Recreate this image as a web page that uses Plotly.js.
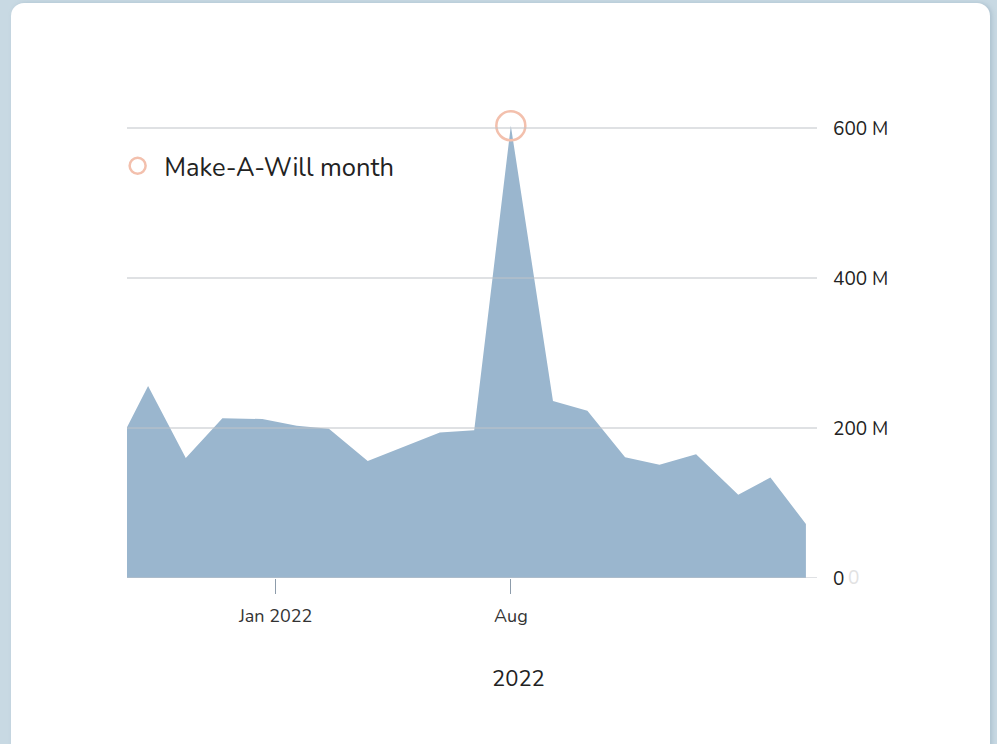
<!DOCTYPE html>
<html>
<head>
<meta charset="utf-8">
<script src="https://cdn.plot.ly/plotly-3.0.1.min.js"></script>
<style>
  html, body { margin:0; padding:0; width:997px; height:744px; overflow:hidden; background:#c8d9e3; }
  #card { position:absolute; left:11px; top:3px; width:979px; height:760px; background:#ffffff; border-radius:13px; box-shadow: 2px 0 4px rgba(120,150,170,0.35); }
  #chart { position:absolute; left:0; top:0; width:997px; height:744px; }
</style>
</head>
<body>
<div id="card"></div>
<div id="chart"></div>
<script>
// Data (values in millions)
const dates = ['2021-08-20','2021-09-08','2021-10-12','2021-11-14','2021-12-20','2022-01-20','2022-02-18','2022-03-25','2022-05-29','2022-06-29','2022-08-01','2022-09-08','2022-10-09','2022-11-12','2022-12-13','2023-01-15','2023-02-22','2023-03-23','2023-04-24'];
const values = [201,256,160,213,212,203,199,156,194,197,603,236,223,161,151,165,111,134,72];

const highlightName = 'Make-A-Will month';
const highlightDates = ['2022-08-01'];
const highlightValues = [603];

const xTickVals = ['2022-01-01','2022-08-01'];
const xTickText = ['Jan 2022','Aug'];
const yTickVals = [0,200,400,600];
const yTickText = ['0','200 M','400 M','600 M'];
const xTitle = '2022';
const xRange = ['2021-08-20','2023-05-04'];
const yRange = [0,640];

const FONT = 'Nunito, Lato, "Open Sans", sans-serif';

const traces = [
  {
    x: dates, y: values, type:'scatter', mode:'none', fill:'tozeroy',
    fillcolor:'#9ab6ce', showlegend:false, hoverinfo:'x+y'
  },
  {
    x: highlightDates, y: highlightValues, type:'scatter', mode:'markers',
    name: highlightName,
    marker:{symbol:'circle-open', size:29, color:'#f3c0ad', line:{width:2.5, color:'#f3c0ad'}}
  }
];

const gridShapes = yTickVals.map(v => ({
  type:'line', xref:'paper', x0:0, x1:1, yref:'y', y0:v, y1:v,
  line:{color:'#bfc3c8', width:1}, layer:'above'
}));

const layout = {
  width:997, height:744,
  paper_bgcolor:'rgba(0,0,0,0)', plot_bgcolor:'rgba(0,0,0,0)',
  margin:{l:127, r:180, t:98, b:166},
  font:{family:FONT, color:'#222222', size:17},
  showlegend:true,
  legend:{
    x:-0.023, xanchor:'left', y:0.858, yanchor:'middle',
    font:{family:FONT, size:25.5, color:'#222222'},
    bgcolor:'rgba(0,0,0,0)', itemwidth:43
  },
  xaxis:{
    type:'date', range:xRange, tickvals:xTickVals, ticktext:xTickText,
    ticks:'outside', ticklen:15, tickcolor:'#8d9cab', tickwidth:1,
    showgrid:false, zeroline:false, showline:false,
    ticklabelstandoff:6,
    tickfont:{family:FONT, size:18, color:'#333333'}
  },
  yaxis:{
    side:'right', range:yRange, tickvals:yTickVals, ticktext:yTickText,
    showgrid:false, zeroline:false, showline:false, ticks:'',
    ticklabelstandoff:15,
    tickfont:{family:FONT, size:19, color:'#222222'}
  },
  shapes: gridShapes,
  annotations:[
    {text:xTitle, xref:'paper', yref:'paper', x:0.567, y:-0.21, xanchor:'center', yanchor:'middle',
     showarrow:false, font:{family:FONT, size:22, color:'#222222'}},
    {text:'0', xref:'paper', yref:'y', x:1.053, y:0, xanchor:'center', yanchor:'middle',
     showarrow:false, font:{family:FONT, size:19, color:'#e2e2e2'}}
  ]
};

Plotly.newPlot('chart', traces, layout, {displayModeBar:false, staticPlot:true});
</script>
</body>
</html>
